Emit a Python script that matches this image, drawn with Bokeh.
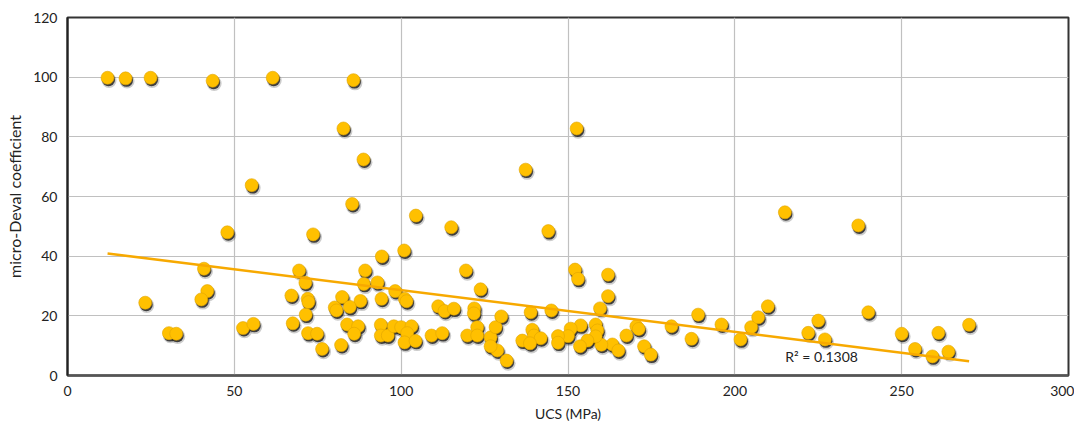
from bokeh.plotting import figure
from bokeh.models import ColumnDataSource, Range1d, FixedTicker, Label
from bokeh.transform import dodge
from bokeh.embed import file_html
from bokeh.resources import INLINE

# UCS (MPa) values
ucs = [12.0, 17.4, 24.9, 43.5, 61.5, 85.7, 82.7, 152.6, 88.7, 137.3,
       55.2, 85.3, 215.0, 237.0, 47.9, 73.6, 104.4, 115.0, 144.1, 40.9,
       41.9, 40.1, 23.3, 30.4, 32.6, 52.6, 55.7, 69.4, 71.3, 67.1,
       72.0, 72.2, 71.4, 67.5, 72.1, 74.8, 76.3, 94.2, 100.9, 89.2,
       119.4, 123.8, 88.8, 92.9, 98.2, 101.1, 101.6, 94.1, 82.3, 87.8,
       80.1, 80.6, 84.6, 83.8, 87.1, 85.9, 82.0, 93.9, 93.9, 96.0,
       97.8, 100.0, 103.1, 101.8, 101.0, 104.3, 109.1, 112.3, 111.1, 113.0,
       115.8, 121.9, 121.8, 119.8, 122.8, 122.8, 126.8, 128.3, 128.8, 152.1,
       153.0, 162.0, 162.0, 159.6, 138.8, 145.0, 130.0, 181.0, 170.5, 171.2,
       167.5, 172.8, 174.8, 163.3, 165.1, 160.0, 158.3, 158.8, 158.3, 153.8,
       150.8, 150.0, 147.0, 147.0, 155.8, 153.6, 139.3, 139.8, 141.8, 136.3,
       138.6, 126.8, 131.6, 189.0, 187.0, 196.0, 201.7, 204.9, 207.0, 209.9,
       222.0, 225.0, 227.0, 240.0, 250.0, 254.0, 259.2, 261.0, 264.0, 270.2]

# micro-Deval coefficient values
mde = [99.8, 99.6, 99.8, 98.8, 99.8, 99.0, 82.8, 82.8, 72.4, 69.0,
       63.8, 57.5, 54.7, 50.3, 48.0, 47.3, 53.6, 49.7, 48.4, 35.8,
       28.3, 25.5, 24.4, 14.2, 14.0, 15.9, 17.3, 35.2, 31.1, 26.8,
       25.7, 24.6, 20.4, 17.5, 14.2, 14.0, 8.9, 39.9, 41.9, 35.2,
       35.2, 28.9, 30.7, 31.2, 28.3, 25.7, 24.9, 25.7, 26.3, 25.0,
       22.8, 21.8, 23.0, 17.1, 16.5, 14.0, 10.2, 17.0, 13.4, 13.4,
       16.5, 16.2, 16.5, 14.2, 11.1, 11.6, 13.4, 14.2, 23.2, 21.6,
       22.4, 22.5, 20.8, 13.4, 16.2, 13.4, 12.8, 16.2, 8.4, 35.5,
       32.4, 33.8, 26.6, 22.5, 21.2, 21.8, 19.8, 16.5, 16.5, 15.6,
       13.4, 9.8, 7.0, 10.4, 8.4, 10.3, 17.1, 15.1, 13.1, 16.8,
       15.7, 13.2, 13.2, 11.0, 11.7, 9.8, 15.3, 13.4, 12.5, 11.7,
       10.8, 9.8, 5.0, 20.4, 12.3, 17.1, 12.1, 16.2, 19.5, 23.2,
       14.3, 18.4, 12.1, 21.2, 14.0, 8.9, 6.4, 14.3, 8.0, 17.0]

# linear trend
trend_slope = -0.1400
trend_intercept = 42.6
r2_text = "R\u00b2 = 0.1308"

x_ticks = [0, 50, 100, 150, 200, 250, 300]
y_ticks = [0, 20, 40, 60, 80, 100, 120]

FONT = "Lato"

src = ColumnDataSource(dict(x=ucs, y=mde))
tx = [min(ucs), max(ucs)]
trend_src = ColumnDataSource(dict(x=tx, y=[trend_intercept + trend_slope * v for v in tx]))

p = figure(width=1074, height=425, output_backend="svg", toolbar_location=None,
           x_range=Range1d(0, 300), y_range=Range1d(0, 120),
           min_border_left=67, min_border_right=6, min_border_top=17, min_border_bottom=50)
p.frame_width = 1001
p.frame_height = 358

p.background_fill_color = "white"
p.border_fill_color = "white"
p.outline_line_color = "#333333"
p.outline_line_width = 2

p.xaxis.ticker = FixedTicker(ticks=x_ticks)
p.yaxis.ticker = FixedTicker(ticks=y_ticks)
p.xgrid.ticker = FixedTicker(ticks=x_ticks)
p.ygrid.ticker = FixedTicker(ticks=y_ticks)
p.grid.grid_line_color = "#C0C0C0"
p.grid.grid_line_width = 1.2

for ax in (p.xaxis, p.yaxis):
    ax.major_tick_out = 0
    ax.major_tick_in = 0
    ax.minor_tick_out = 0
    ax.minor_tick_in = 0
    ax.major_label_text_font = FONT
    ax.major_label_text_font_size = "14px"
    ax.major_label_text_color = "#222222"
    ax.axis_label_text_font = FONT
    ax.axis_label_text_font_size = "14px"
    ax.axis_label_text_font_style = "normal"
    ax.axis_label_text_color = "#222222"
p.yaxis.axis_label_text_font_size = "16px"
p.xaxis.axis_line_color = "#555555"
p.xaxis.axis_line_width = 2.5
p.yaxis.axis_line_color = "#222222"
p.yaxis.axis_line_width = 2
p.xaxis.axis_label = "UCS (MPa)"
p.yaxis.axis_label = "micro-Deval coefficient"
p.xaxis.major_label_standoff = 10
p.yaxis.major_label_standoff = 10
p.xaxis.axis_label_standoff = 6
p.yaxis.axis_label_standoff = 6

# soft shadows
p.scatter(x=dodge("x", 0.45, range=p.x_range), y=dodge("y", -0.9, range=p.y_range), source=src,
          size=15, fill_color="#000000", fill_alpha=0.2, line_color=None)
p.scatter(x=dodge("x", 0.3, range=p.x_range), y=dodge("y", -0.65, range=p.y_range), source=src,
          size=13, fill_color="#1a1a1a", fill_alpha=0.8, line_color=None)
# dots
p.scatter(x="x", y="y", source=src, size=13, fill_color="#FFC000",
          line_color="#E0A500", line_width=0.6)

p.line(x="x", y="y", source=trend_src, line_color="#F7A900", line_width=2.5)

p.add_layout(Label(x=226, y=6.4, text=r2_text, text_font=FONT, text_font_size="14px",
                   text_color="#222222", text_align="center", text_baseline="middle"))

open("out.html", "w").write(file_html(p, INLINE))
